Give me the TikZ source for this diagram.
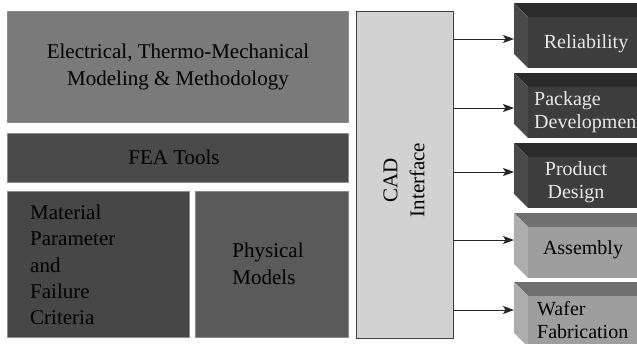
\documentclass[tikz,border=0pt]{standalone}
\usepackage{fontspec}
\setmainfont{Liberation Serif}
\usetikzlibrary{arrows.meta}
\definecolor{cElec}{HTML}{7A7A7A}
\definecolor{cFea}{HTML}{4A4A4A}
\definecolor{cMat}{HTML}{474747}
\definecolor{cPhys}{HTML}{5A5A5A}
\definecolor{cCad}{HTML}{D2D2D2}
\definecolor{cEdge}{HTML}{8C8C8C}
\definecolor{dFront}{HTML}{3D3D3D}
\definecolor{dTop}{HTML}{2B2B2B}
\definecolor{dSide}{HTML}{4A4A4A}
\definecolor{lFront}{HTML}{9E9E9E}
\definecolor{lTop}{HTML}{6F6F6F}
\definecolor{lSide}{HTML}{ADADAD}
\definecolor{lightTxt}{HTML}{E8E8E8}
\tikzset{
  leftbox/.style={draw=cEdge, line width=0.8pt, anchor=north west, inner sep=0pt},
  ltext/.style={text=black, font=\fontsize{21}{27}\selectfont, inner sep=0pt},
  rtextd/.style={text=black, font=\fontsize{20}{23}\selectfont, inner sep=0pt},
  rtextl/.style={text=lightTxt, font=\fontsize{20}{23}\selectfont, inner sep=0pt},
  conn/.style={line width=0.9pt, draw=black!85, -{Stealth[length=11pt,width=8pt,inset=2.5pt]}},
}
\newcommand{\cubebox}[5]{%
  % #1 top y, #2 front, #3 top, #4 side, #5 name
  \fill[#3] (514,#1) -- (700,#1) -- (714,#1+14) -- (528,#1+14) -- cycle;
  \fill[#4] (514,#1) -- (528,#1+14) -- (528,#1+65) -- (514,#1+51) -- cycle;
  \fill[#2] (528,#1+14) rectangle (720,#1+65);
  \coordinate (#5) at (514,#1+35);
}
\begin{document}
\begin{tikzpicture}[x=1pt,y=-1pt]
\useasboundingbox (0,0) rectangle (637,343);
\clip (0,0) rectangle (637,343);
\fill[white] (0,0) rectangle (637,343);

\node[leftbox, fill=cElec, minimum width=341pt, minimum height=111pt] (elec) at (7,11) {};
\node[leftbox, fill=cFea, minimum width=341pt, minimum height=49pt] (fea) at (7,133) {};
\node[leftbox, fill=cMat, minimum width=182pt, minimum height=146pt] (mat) at (7,191) {};
\node[leftbox, fill=cPhys, minimum width=153pt, minimum height=146pt] (phys) at (195,191) {};
\node[draw=black!75, line width=1pt, fill=cCad, anchor=north west, minimum width=97pt, minimum height=327pt, inner sep=0pt] (cad) at (356,11) {};

\cubebox{3}{dFront}{dTop}{dSide}{b1}
\cubebox{73}{dFront}{dTop}{dSide}{b2}
\cubebox{143}{dFront}{dTop}{dSide}{b3}
\cubebox{213}{lFront}{lTop}{lSide}{b4}
\cubebox{282}{lFront}{lTop}{lSide}{b5}

\node[ltext, align=center] (electxt) at (178,67)
  {Electrical, Thermo-Mechanical\\Modeling \& Methodology};
\node[ltext] (featxt) at (174,157) {FEA Tools};
\node[ltext, font=\fontsize{21}{26.3}\selectfont, align=left, anchor=west] (mattxt) at (30,265)
  {Material\\Parameter\\and\\Failure\\Criteria};
\node[ltext, align=left] (phystxt) at (268,264) {Physical\\Models};
\node[ltext, rotate=90, align=center] (cadtxt) at (404,180) {CAD\\Interface};

\node[rtextl] (t1) at (586,44) {Reliability};
\node[rtextl, align=left, anchor=west] (t2) at (534,112) {Package\\Development};
\node[rtextl, align=center] (t3) at (576,182) {Product\\Design};
\node[rtextd] (t4) at (583,250) {Assembly};
\node[rtextd, align=left, anchor=west] (t5) at (537,320) {Wafer\\Fabrication};

\coordinate (a1) at (514,39);
\coordinate (a2) at (514,108);
\coordinate (a3) at (514,172);
\coordinate (a4) at (514,240);
\coordinate (a5) at (514,310);
\foreach \i in {1,...,5}{
  \draw[conn] (cad.east |- a\i) -- (a\i);
}
\end{tikzpicture}
\end{document}
